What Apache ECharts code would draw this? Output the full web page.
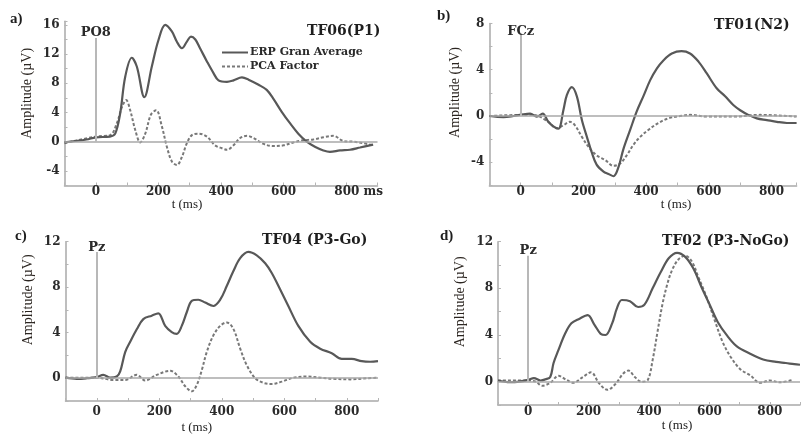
<!DOCTYPE html>
<html>
<head>
<meta charset="utf-8">
<script src="https://cdn.jsdelivr.net/npm/echarts@6/dist/echarts.min.js"></script>
<style>html,body{margin:0;padding:0;background:#fff}#c{width:803px;height:435px}</style>
</head>
<body>
<div id="c"></div>
<script>
// ---- Data (time in ms, amplitude in µV) ----
const erpA_t = [-100,-30,0,45,62,78,94,115,131,155,179,200,222,243,259,275,291,304,318,333,355,376,392,419,440,467,488,520,546,567,594,621,647,674,700,727,748,780,812,844,886];
const erpA_v = [-0.1,0.3,0.6,0.7,1.1,3.9,8.9,11.5,10.3,6.1,10.3,13.9,16.0,15.1,13.7,12.8,13.7,14.4,14.0,12.8,11.0,9.4,8.4,8.2,8.4,8.8,8.5,7.8,7.1,5.9,4.1,2.5,1.1,0,-0.7,-1.2,-1.4,-1.2,-1.1,-0.8,-0.4];
const pcaA_t = [-100,0,46,67,84,97,110,126,142,158,176,193,211,227,243,259,275,291,307,328,355,381,403,419,440,461,483,504,536,567,600,631,663,695,727,759,791,823,855,886];
const pcaA_v = [-0.2,0.7,0.9,2.5,4.8,5.7,4.3,1.6,-0.1,1.1,3.7,4.3,2.1,-0.7,-2.7,-3.2,-2.1,-0.2,0.9,1.1,0.7,-0.5,-0.9,-1.1,-0.5,0.5,0.8,0.5,-0.3,-0.6,-0.5,-0.1,0.2,0.3,0.6,0.8,0.1,0,-0.2,-0.5];

const erpB_t = [-100,-55,-23,9,30,51,70,88,104,120,136,147,163,179,195,211,226,242,264,280,296,312,327,349,370,391,413,434,455,482,513,540,567,593,625,652,678,700,726,753,785,817,849,880];
const erpB_v = [0,-0.1,0,0.15,0.2,-0.05,0.2,-0.5,-0.9,-1.1,0.5,1.8,2.5,1.7,-0.35,-1.8,-3.1,-4.2,-4.8,-5.0,-5.2,-4.4,-2.9,-1.2,0.4,1.7,3.1,4.1,4.8,5.4,5.6,5.4,4.7,3.7,2.4,1.7,0.95,0.5,0.1,-0.2,-0.35,-0.5,-0.6,-0.6];
const pcaB_t = [-100,9,40,83,115,136,157,173,195,216,242,269,296,317,338,359,381,407,439,471,508,540,593,678,764,880];
const pcaB_v = [0,0.1,0.1,-0.4,-1.05,-0.8,-0.5,-0.8,-1.8,-2.65,-3.4,-3.8,-4.3,-4.1,-3.4,-2.5,-1.8,-1.2,-0.6,-0.2,0,0.1,-0.05,-0.05,0.1,-0.05];

const erpC_t = [-100,-64,-32,0,21,43,64,75,91,107,128,149,176,197,219,240,256,272,288,304,325,347,373,395,416,437,459,485,512,539,560,587,613,645,683,715,752,784,816,848,875,900];
const erpC_v = [0.05,-0.05,0,0.1,0.3,0.05,0.15,0.6,2.3,3.2,4.3,5.2,5.5,5.7,4.6,4.05,3.9,4.6,5.8,6.8,6.9,6.65,6.35,6.9,8.1,9.4,10.55,11.1,10.8,10.1,9.25,7.8,6.35,4.6,3.2,2.6,2.2,1.7,1.7,1.5,1.45,1.5];
const pcaC_t = [-100,0,53,91,128,155,192,235,261,283,304,320,336,352,373,395,416,437,459,480,507,533,560,592,629,672,715,757,811,864,900];
const pcaC_v = [0.05,0.05,-0.15,-0.15,0.3,-0.2,0.3,0.65,0.15,-0.7,-1.15,-0.6,0.7,2.3,3.75,4.6,4.9,4.35,2.6,1.15,0,-0.4,-0.5,-0.3,0.05,0.15,0.05,-0.05,-0.1,0,0.05];

const erpD_t = [-100,-61,-29,0,19,41,57,73,84,100,122,143,170,197,219,240,256,278,294,310,337,364,385,412,439,466,493,520,547,574,601,628,660,692,735,778,821,853,881,900];
const erpD_v = [0.1,-0.05,0,0.15,0.3,0.1,0.2,0.4,1.6,2.7,4.1,5.0,5.4,5.7,4.9,4.1,4.0,5.0,6.3,7.0,6.9,6.4,6.6,8.0,9.4,10.6,11.05,10.7,9.7,8.1,6.6,5.1,3.9,3.0,2.4,1.9,1.7,1.6,1.5,1.45];
const pcaD_t = [-100,0,25,46,73,100,127,149,181,208,235,262,289,315,332,353,375,396,412,429,445,461,477,498,520,542,563,590,617,644,671,703,735,768,800,833,876];
const pcaD_v = [0.1,0.1,0,-0.35,-0.1,0.5,0.15,-0.1,0.4,0.8,-0.15,-0.7,-0.2,0.7,0.95,0.4,0,0.15,1.85,4.4,6.7,8.4,9.6,10.5,10.8,10.3,9.0,7.3,5.3,3.4,2.1,1.05,0.55,-0.1,0.1,-0.05,0.15];

const panelLetters = ['a)', 'b)', 'c)', 'd)'];
const panelTitles = ['TF06(P1)', 'TF01(N2)', 'TF04 (P3-Go)', 'TF02 (P3-NoGo)'];
const electrodes = ['PO8', 'FCz', 'Pz', 'Pz'];
const electrodeLineTop = [14.2, 7.15, 11.1, 10.8];
const seriesNames = ['ERP Gran Average', 'PCA Factor'];
const yAxisName = 'Amplitude (\u00b5V)';
const xAxisName = 't (ms)';

// ---- Layout / style ----
const zip = (t, v) => t.map((x, i) => [x, v[i]]);
const BOLD = 'DejaVu Serif';
const REG = 'Liberation Serif';
const grids = [
  {left: 64.5, top: 21.25, width: 313, height: 164.25},
  {left: 489.4, top: 23.4, width: 307.2, height: 162.1},
  {left: 65.5, top: 241.7, width: 312.5, height: 161.4},
  {left: 498, top: 241.7, width: 309.6, height: 163.3}
];
const xRange = [[-100, 900], [-100, 880], [-100, 900], [-100, 900]];
const yRange = [[-6, 16.5], [-6, 8], [-2, 12], [-2, 12]];
const xLabelMargin = [0, 0, 5, 1];
const xNameGap = [9, 11, 20, 13];
const xNamePad = [[0, 68, 0, 0], [0, 0, 0, 66], [0, 50, 0, 0], [0, 0, 0, 56]];
const yNameGap = [30, 27, 30, 31];
const yNamePad = [[0, 0, 0, 20], [0, 0, 0, 24], [0, 0, 0, 43], [0, 0, 0, 43]];
const labelDist = [-1, -5, -2, -1];

const tickFont = {fontFamily: BOLD, fontWeight: 'bold', fontSize: 12, color: '#2a2a2a'};
const axisLineStyle = {color: '#a9a9a9', width: 1.5};

const xAxes = grids.map((g, i) => ({
  type: 'value', gridIndex: i, min: xRange[i][0], max: xRange[i][1], interval: 100,
  name: xAxisName, nameLocation: 'middle', nameGap: xNameGap[i],
  nameTextStyle: {fontFamily: REG, fontSize: 13, color: '#222', padding: xNamePad[i], verticalAlign: 'top'},
  axisLine: {show: true, onZero: false, lineStyle: axisLineStyle},
  axisTick: {show: true, inside: true, length: 3, lineStyle: {color: '#b5b5b5', width: 1}},
  splitLine: {show: false},
  axisLabel: {
    margin: xLabelMargin[i], showMinLabel: true, showMaxLabel: true, hideOverlap: false,
    formatter: v => {
      if (v % 200 !== 0) return '';
      if (i === 0 && v === 800) return '{p|}{n|800}{n| ms}';
      return '{n|' + v + '}';
    },
    rich: {n: Object.assign({}, tickFont), p: {width: 25}}
  }
}));

const yAxes = grids.map((g, i) => ({
  type: 'value', gridIndex: i, min: yRange[i][0], max: yRange[i][1], interval: 2,
  name: yAxisName, nameLocation: 'middle', nameRotate: 90, nameGap: yNameGap[i],
  nameTextStyle: {fontFamily: REG, fontSize: 14, color: '#2b2520', padding: yNamePad[i]},
  axisLine: {show: true, onZero: false, lineStyle: axisLineStyle},
  axisTick: {show: true, inside: true, length: 3, lineStyle: {color: '#b5b5b5', width: 1}},
  splitLine: {show: false},
  axisLabel: Object.assign({margin: 5, formatter: v => (v % 4 === 0 ? String(v) : '')}, tickFont)
}));

const erpData = [zip(erpA_t, erpA_v), zip(erpB_t, erpB_v), zip(erpC_t, erpC_v), zip(erpD_t, erpD_v)];
const pcaData = [zip(pcaA_t, pcaA_v), zip(pcaB_t, pcaB_v), zip(pcaC_t, pcaC_v), zip(pcaD_t, pcaD_v)];

const series = [];
grids.forEach((g, i) => {
  series.push({
    name: seriesNames[0], type: 'line', xAxisIndex: i, yAxisIndex: i,
    data: erpData[i], smooth: 0.35, symbol: 'none', showSymbol: false,
    lineStyle: {color: '#585858', width: 2.2}, itemStyle: {color: '#585858'}, z: 3,
    markLine: {
      silent: true, symbol: 'none', animation: false,
      data: [
        {yAxis: 0, lineStyle: {color: '#a8a8a8', width: 1.5, type: 'solid'}, label: {show: false}},
        [
          {coord: [0, 0], lineStyle: {color: '#b8b8b8', width: 2, type: 'solid'},
           label: {show: true, position: 'end', distance: labelDist[i], formatter: electrodes[i],
                   fontFamily: BOLD, fontWeight: 'bold', fontSize: 13, color: '#2a2a2a'}},
          {coord: [0, electrodeLineTop[i]]}
        ]
      ]
    }
  });
  series.push({
    name: seriesNames[1], type: 'line', xAxisIndex: i, yAxisIndex: i,
    data: pcaData[i], smooth: 0.35, symbol: 'none', showSymbol: false,
    lineStyle: {color: '#787878', width: 2, type: [3, 2]}, itemStyle: {color: '#787878'}, z: 2
  });
});

const titleStyle = {fontFamily: BOLD, fontWeight: 'bold', fontSize: 14, color: '#1e1e1e'};
const letterPos = [[10, 12], [437, 9], [15, 229], [440, 229]];
const titlePos = [[307, 24], [714, 18], [262, 233], [662, 234]];
const titles = [];
panelLetters.forEach((t, i) => titles.push({text: t, left: letterPos[i][0], top: letterPos[i][1], padding: 0,
  textStyle: {fontFamily: REG, fontWeight: 'bold', fontSize: 15, color: '#1e1e1e'}}));
panelTitles.forEach((t, i) => titles.push({text: t, left: titlePos[i][0], top: titlePos[i][1], padding: 0, textStyle: titleStyle}));

const chart = echarts.init(document.getElementById('c'), null, {renderer: 'canvas'});
chart.setOption({
  backgroundColor: '#ffffff',
  animation: false,
  title: titles,
  legend: {
    data: seriesNames, orient: 'vertical', left: 221, top: 47, padding: 0,
    itemWidth: 26, itemHeight: 10, itemGap: 3, selectedMode: false,
    itemStyle: {opacity: 0},
    textStyle: {fontFamily: BOLD, fontWeight: 'bold', fontSize: 11, color: '#2a2a2a', padding: [0, 0, 0, -3]}
  },
  grid: grids,
  xAxis: xAxes,
  yAxis: yAxes,
  series: series
});
</script>
</body>
</html>
